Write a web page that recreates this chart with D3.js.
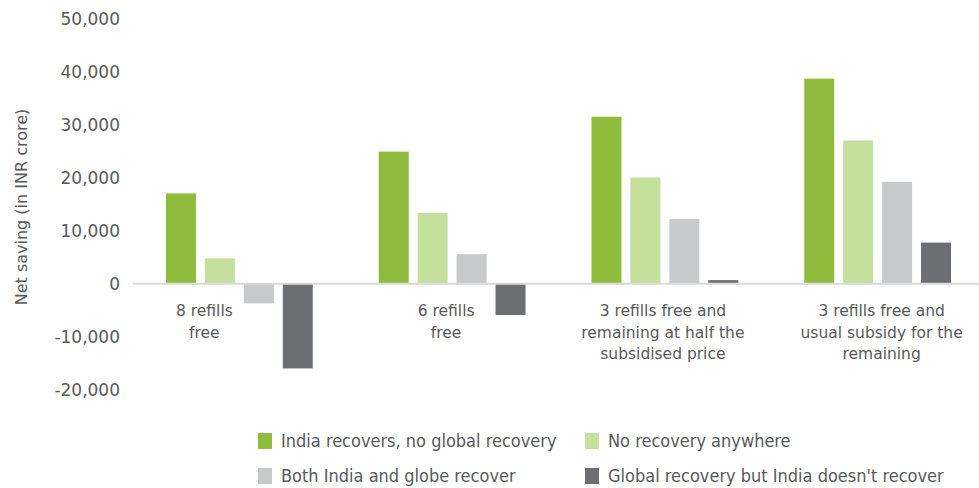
<!DOCTYPE html>
<html>
<head>
<meta charset="utf-8">
<script src="https://cdn.jsdelivr.net/npm/d3@7"></script>
<style>
  body { margin: 0; background: #fff; }
  svg { display: block; font-family: "DejaVu Sans", sans-serif; }
</style>
</head>
<body>
<svg></svg>
<script>
// данные
const categories = [
  ["8 refills", "free"],
  ["6 refills", "free"],
  ["3 refills free and", "remaining at half the", "subsidised price"],
  ["3 refills free and", "usual subsidy for the", "remaining"]
];
const seriesNames = [
  "India recovers, no global recovery",
  "No recovery anywhere",
  "Both India and globe recover",
  "Global recovery but India doesn't recover"
];
const indiaOnly = [17100, 25000, 31600, 38800];
const noRecovery = [4800, 13400, 20100, 27100];
const bothRecover = [-3700, 5600, 12250, 19300];
const globalOnly = [-16000, -5900, 700, 7800];
const yTicks = [-20000, -10000, 0, 10000, 20000, 30000, 40000, 50000];

const colors = ["#8fbc3d", "#c5df9d", "#c8c9cb", "#6d6e71"];
const values = [indiaOnly, noRecovery, bothRecover, globalOnly];
// сдвиг подписей категорий относительно центра группы (как в оригинале)
const labelShift = [-35, -6, -2, 4];

const width = 979;
const height = 488;
let svg = d3.select("svg").attr("width", width).attr("height", height);

const x0 = d3.scaleBand().domain(d3.range(categories.length)).range([133, 984])
  .paddingInner(0.31).paddingOuter(0.155);
const x1 = d3.scaleBand().domain(d3.range(seriesNames.length)).range([0, x0.bandwidth()])
  .paddingInner(0.23);
const y = d3.scaleLinear().domain([-20000, 50000]).range([389.6, 19.4]);
const fmt = d => d3.format(",")(d).replace("\u2212", "-");

// подписи оси y
svg.append("g").selectAll("text").data(yTicks).join("text")
  .attr("x", 120).attr("y", d => y(d)).attr("dy", "0.35em")
  .attr("text-anchor", "end").attr("font-size", 17).attr("fill", "#58595b")
  .text(fmt);

svg.append("text")
  .attr("transform", "translate(27,207) rotate(-90)")
  .attr("text-anchor", "middle").attr("font-size", 16).attr("fill", "#58595b")
  .text("Net saving (in INR crore)");

// столбцы
let groups = svg.append("g").selectAll("g").data(categories).join("g")
  .attr("transform", (d, i) => `translate(${x0(i)},0)`);
groups.selectAll("rect").data((d, i) => values.map((s, k) => ({ k, v: s[i] }))).join("rect")
  .attr("x", d => x1(d.k)).attr("width", x1.bandwidth())
  .attr("y", d => y(Math.max(0, d.v)))
  .attr("height", d => Math.abs(y(d.v) - y(0)))
  .attr("fill", d => colors[d.k]);

// нулевая линия
svg.append("line").attr("x1", 133).attr("x2", 979).attr("y1", y(0)).attr("y2", y(0))
  .attr("stroke", "#d9d9d9").attr("stroke-width", 2);

// подписи категорий
groups.append("text").attr("text-anchor", "middle")
  .attr("font-size", 15.5).attr("fill", "#58595b")
  .each(function (d, i) {
    d3.select(this).selectAll("tspan").data(d).join("tspan")
      .attr("x", x0.bandwidth() / 2 + labelShift[i]).attr("y", (t, j) => 316 + j * 21.5).text(t => t);
  });

// легенда
const legendPos = [[258, 441], [585, 441], [258, 476], [585, 476]];
let legend = svg.append("g").selectAll("g").data(seriesNames).join("g")
  .attr("transform", (d, i) => `translate(${legendPos[i][0]},${legendPos[i][1]})`);
legend.append("rect").attr("x", 0).attr("y", -8).attr("width", 14).attr("height", 16)
  .attr("fill", (d, i) => colors[i]);
legend.append("text").attr("x", 23).attr("dy", "0.35em").attr("font-size", 18)
  .attr("font-family", "'DejaVu Sans Condensed', 'DejaVu Sans', sans-serif")
  .attr("fill", "#58595b").text(d => d);
</script>
</body>
</html>
